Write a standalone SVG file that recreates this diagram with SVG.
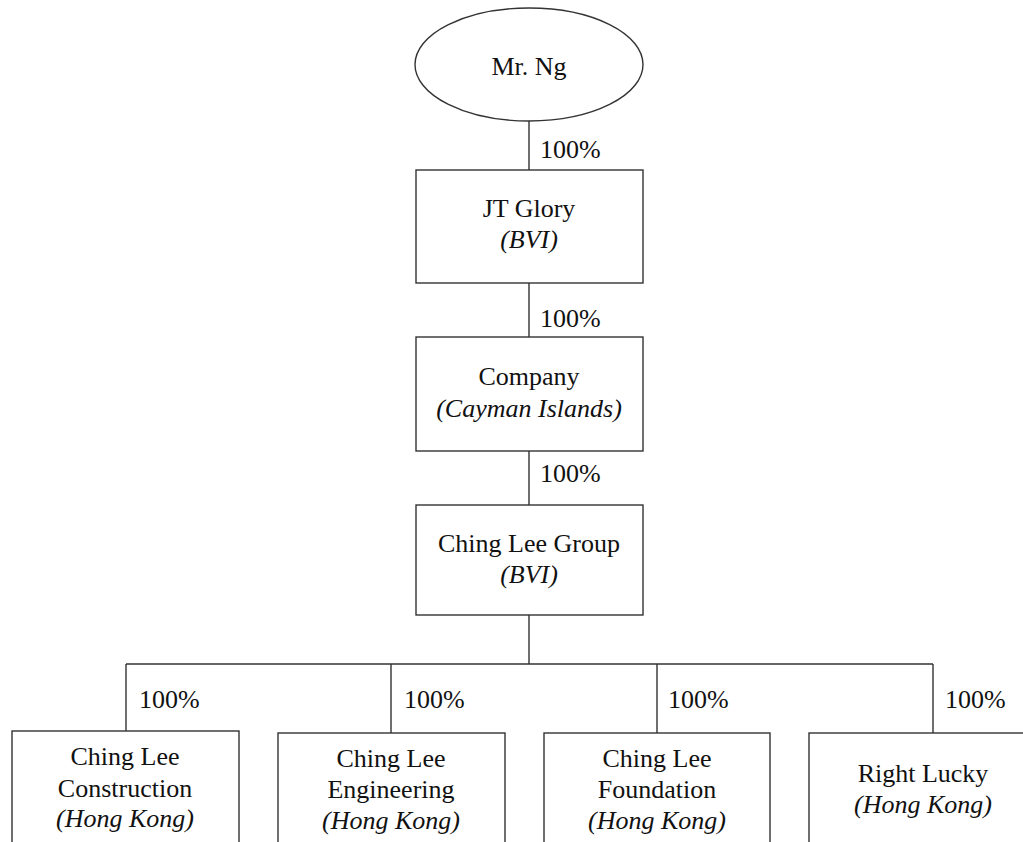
<svg xmlns="http://www.w3.org/2000/svg" width="1023" height="842" viewBox="0 0 1023 842">
<style>
.b{fill:#fff;stroke:#333;stroke-width:1.4}
.c{fill:none;stroke:#333;stroke-width:1.4}
text{font-family:"Liberation Serif","Times New Roman",serif;font-size:26px;fill:#111}
.m{text-anchor:middle}
.i{font-style:italic}
</style>
<rect width="1023" height="842" fill="#fff"/>
<g id="connectors">
<path class="c" d="M529 121V170M529 283V337M529 451V505M529 615V664M126 664H933M126 664V731M391 664V733M657 664V733M933 664V733"/>
<text x="540" y="158">100%</text>
<text x="540" y="327">100%</text>
<text x="540" y="482">100%</text>
<text x="139" y="708">100%</text>
<text x="404" y="708">100%</text>
<text x="668" y="708">100%</text>
<text x="945" y="708">100%</text>
</g>
<g id="mr-ng"><ellipse class="b" cx="529" cy="64.5" rx="114" ry="56.5"/><text class="m" x="529" y="75">Mr. Ng</text></g>
<g id="jt-glory"><rect class="b" x="416" y="170" width="227" height="113"/><text class="m" x="529" y="217">JT Glory</text><text class="m i" x="529" y="248">(BVI)</text></g>
<g id="company"><rect class="b" x="416" y="337" width="227" height="114"/><text class="m" x="529" y="385">Company</text><text class="m i" x="529" y="417">(Cayman Islands)</text></g>
<g id="ching-lee-group"><rect class="b" x="416" y="505" width="227" height="110"/><text class="m" x="529" y="552">Ching Lee Group</text><text class="m i" x="529" y="583">(BVI)</text></g>
<g id="construction"><rect class="b" x="12" y="731" width="227" height="130"/><text class="m" x="125" y="765">Ching Lee</text><text class="m" x="125" y="797">Construction</text><text class="m i" x="125" y="827">(Hong Kong)</text></g>
<g id="engineering"><rect class="b" x="278" y="733" width="227" height="130"/><text class="m" x="391" y="767">Ching Lee</text><text class="m" x="391" y="798">Engineering</text><text class="m i" x="391" y="829">(Hong Kong)</text></g>
<g id="foundation"><rect class="b" x="544" y="733" width="226" height="130"/><text class="m" x="657" y="767">Ching Lee</text><text class="m" x="657" y="798">Foundation</text><text class="m i" x="657" y="829">(Hong Kong)</text></g>
<g id="right-lucky"><rect class="b" x="809" y="733" width="230" height="130"/><text class="m" x="923" y="782">Right Lucky</text><text class="m i" x="923" y="813">(Hong Kong)</text></g>
</svg>
